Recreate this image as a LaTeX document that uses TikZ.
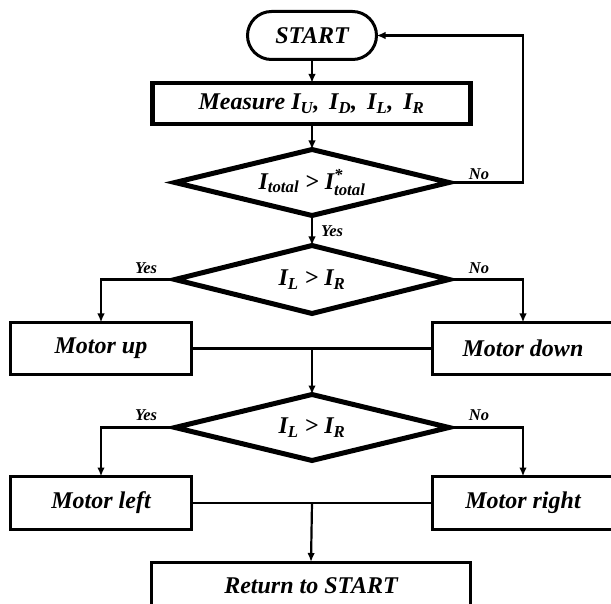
\documentclass[tikz,border=0pt]{standalone}
\usepackage{fontspec}
\usepackage{amsmath}
\setmainfont{Liberation Serif}
\usetikzlibrary{shapes.geometric,arrows.meta}
\begin{document}
\begin{tikzpicture}[x=1pt,y=-1pt,
  every node/.style={font=\fontsize{24}{27}\selectfont\bfseries\itshape, inner sep=0pt, outer sep=0pt},
  proc/.style={draw, line width=3pt, minimum width=181pt, minimum height=52pt},
  dec/.style={draw, diamond, line width=5pt, minimum width=274pt, minimum height=66pt, shape aspect=4},
  lab/.style={font=\fontsize{16.5}{18}\selectfont\bfseries\itshape},
  conn/.style={line width=2.2pt},
  arr/.style={conn, -{Latex[length=9pt,width=7.5pt]}}]
\fill[white] (0,0) rectangle (611,604);
\useasboundingbox (0,0) rectangle (611,604);

\node[draw, line width=3pt, rounded corners=24pt, minimum width=129pt, minimum height=48pt] (start) at (312,35.5) {START};
\node[draw, line width=4.5pt, minimum width=318pt, minimum height=41pt] (meas) at (311.5,103.5)
  {Measure I\textsubscript{U},\hspace{4pt} I\textsubscript{D},\hspace{4pt} I\textsubscript{L},\hspace{4pt} I\textsubscript{R}};
\node[dec] (d1) at (312,182.5) {$\text{I}_{\text{total}}$ > $\text{I}^{\text{*}}_{\text{total}}$};
\node[dec, minimum height=68pt] (d2) at (312,279.5) {I\textsubscript{L} > I\textsubscript{R}};
\node[proc] (mup) at (101,348.5) {Motor up};
\node[proc] (mdown) at (523,348.5) {Motor down};
\node[dec] (d3) at (312,427.5) {I\textsubscript{L} > I\textsubscript{R}};
\node[proc, minimum height=53pt] (mleft) at (101,503) {Motor left};
\node[proc, minimum height=53pt] (mright) at (523,503) {Motor right};
\node[proc, minimum width=319pt, minimum height=48pt] (ret) at (311,586) {Return to START};

\node[lab] (yes1) at (332,231) {Yes};
\node[lab] (no1) at (479,174) {No};
\node[lab] (yes2) at (146,268) {Yes};
\node[lab] (no2) at (479,268) {No};
\node[lab] (yes3) at (146,415) {Yes};
\node[lab] (no3) at (479,415) {No};

\coordinate (fb) at (523,35.5);
\coordinate (m1) at (312,348.5);
\coordinate (m2) at (312,503);

\draw[arr] (start.south) -- (start.south |- meas.north);
\draw[arr] (meas.south -| d1.north) -- (d1.north);
\draw[arr] (d1.south) -- (d2.north);
\draw[arr] (d1.east) -| (fb) -- (start.east);
\draw[arr] (d2.west) -| (mup.north);
\draw[arr] (d2.east) -| (mdown.north);
\draw[conn] (mup.east) -- (mdown.west);
\draw[arr] (m1) -- (d3.north);
\draw[arr] (d3.west) -| (mleft.north);
\draw[arr] (d3.east) -| (mright.north);
\draw[conn] (mleft.east) -- (mright.west);
\draw[arr] (m2) -- (ret.north);
\end{tikzpicture}
\end{document}
